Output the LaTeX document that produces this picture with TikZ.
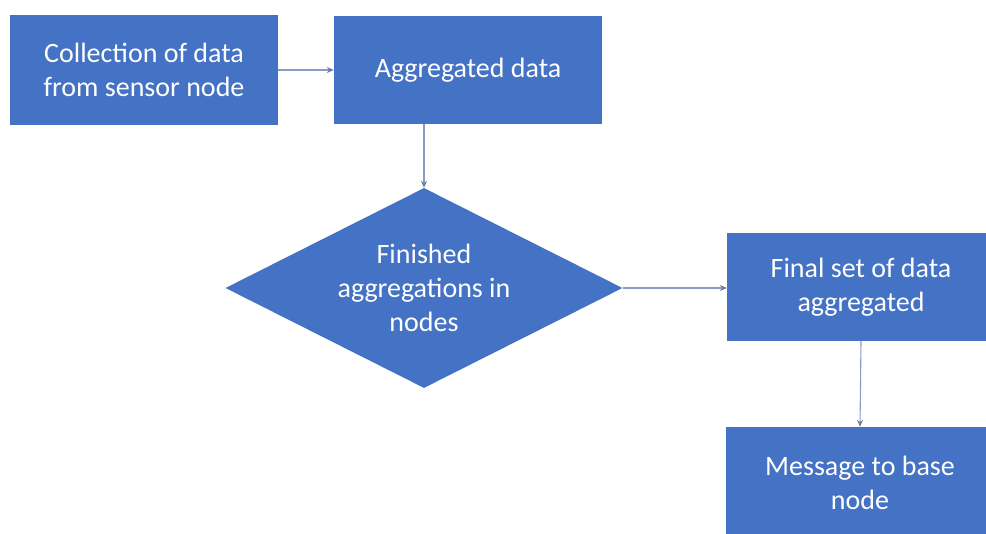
\documentclass[tikz,border=0pt]{standalone}
\usepackage{fontspec}
\setmainfont{Carlito}
\usetikzlibrary{shapes.geometric,arrows.meta,calc}

\definecolor{boxblue}{HTML}{4472C4}
\definecolor{linkgray}{HTML}{8A9CC6}

\tikzset{
  procbox/.style={rectangle, fill=boxblue, draw=none, text=white,
    minimum width=268pt, minimum height=108pt, inner sep=0pt,
    align=center, font=\fontsize{28pt}{34pt}\selectfont},
  decision/.style={diamond, aspect=2, fill=boxblue, draw=none, text=white,
    minimum width=397pt, minimum height=200pt, inner sep=0pt,
    align=center, font=\fontsize{28pt}{34pt}\selectfont},
  link/.style={draw=linkgray, line width=1.1pt,
    -{Stealth[length=7pt,width=6pt,color=linkgray!80!black]}}
}

\begin{document}
\begin{tikzpicture}[x=1pt,y=-1pt]
  \useasboundingbox (0,0) rectangle (986,534);
  \clip (0,0) rectangle (986,534);
  \fill[white] (0,0) rectangle (986,534);

  \node[procbox, minimum height=110pt] (collect) at (144,70)
    {Collection of data\\from sensor node};
  \node[procbox] (agg) at (468,70) {Aggregated data};
  \node[decision] (done) at (424,288)
    {Finished\\aggregations in\\nodes};
  \node[procbox] (final) at (861,287)
    {Final set of data\\aggregated};
  \node[procbox, minimum height=112pt] (msg) at (860,483)
    {Message to base\\node};
  % the last box runs on past the lower edge
  \fill[boxblue] (msg.south west) rectangle ($(msg.south east)+(0,12)$);

  \draw[link] (collect.east) -- (agg.west);
  \draw[link] (done.north |- agg.south) -- (done.north);
  \draw[link] (done.east) -- (final.west |- done.east);
  \draw[link] (final.south) -- (msg.north);
\end{tikzpicture}
\end{document}
